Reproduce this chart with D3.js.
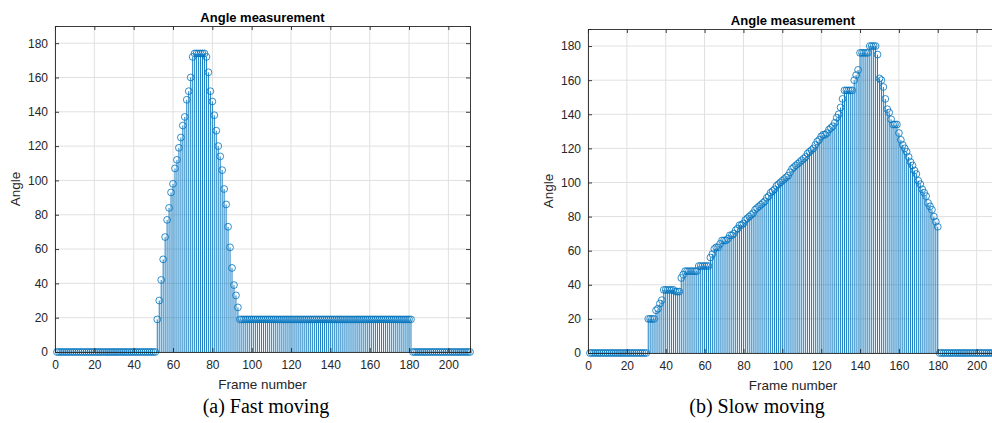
<!DOCTYPE html>
<html>
<head>
<meta charset="utf-8">
<script src="https://cdn.jsdelivr.net/npm/d3@7/dist/d3.min.js"></script>
<style>
  html, body { margin: 0; padding: 0; background: #fff; }
  svg { display: block; }
</style>
</head>
<body>
<div id="vis"></div>
<script>
const width = 992;
const height = 423;

// angle per frame (frames 1..211)
const fastAngles = [
  0, 0, 0, 0, 0, 0, 0, 0, 0, 0,
  0, 0, 0, 0, 0, 0, 0, 0, 0, 0,
  0, 0, 0, 0, 0, 0, 0, 0, 0, 0,
  0, 0, 0, 0, 0, 0, 0, 0, 0, 0,
  0, 0, 0, 0, 0, 0, 0, 0, 0, 0,
  0, 19, 30, 42, 54, 67, 77, 84, 93, 98,
  107, 112, 119, 125, 132, 137, 147, 152, 160, 172,
  174, 174, 174, 174, 174, 174, 172, 163, 152, 146,
  138, 129, 120, 114, 106, 95, 86, 73, 61, 49,
  39, 33, 26, 19, 19, 19, 19, 19, 19, 19,
  19, 19, 19, 19, 19, 19, 19, 19, 19, 19,
  19, 19, 19, 19, 19, 19, 19, 19, 19, 19,
  19, 19, 19, 19, 19, 19, 19, 19, 19, 19,
  19, 19, 19, 19, 19, 19, 19, 19, 19, 19,
  19, 19, 19, 19, 19, 19, 19, 19, 19, 19,
  19, 19, 19, 19, 19, 19, 19, 19, 19, 19,
  19, 19, 19, 19, 19, 19, 19, 19, 19, 19,
  19, 19, 19, 19, 19, 19, 19, 19, 19, 19,
  19, 0, 0, 0, 0, 0, 0, 0, 0, 0,
  0, 0, 0, 0, 0, 0, 0, 0, 0, 0,
  0, 0, 0, 0, 0, 0, 0, 0, 0, 0,
  0
];

const slowAngles = [
  0, 0, 0, 0, 0, 0, 0, 0, 0, 0,
  0, 0, 0, 0, 0, 0, 0, 0, 0, 0,
  0, 0, 0, 0, 0, 0, 0, 0, 0, 0,
  20, 20, 20, 20, 25, 26, 29, 31, 37, 37,
  37, 37, 37, 37, 36, 36, 36, 44, 46, 48,
  48, 48, 48, 48, 48, 48, 51, 51, 51, 51,
  51, 51, 56, 58, 61, 62, 62, 64, 66, 66,
  66, 67, 69, 69, 70, 72, 73, 75, 75, 76,
  78, 79, 80, 81, 82, 84, 85, 86, 87, 88,
  89, 91, 92, 94, 95, 96, 98, 99, 100, 101,
  102, 103, 104, 106, 108, 109, 110, 111, 112, 113,
  114, 115, 117, 118, 119, 120, 122, 124, 125, 127,
  128, 128, 129, 131, 132, 133, 135, 138, 140, 144,
  149, 154, 154, 154, 154, 154, 160, 163, 166, 176,
  176, 176, 176, 176, 180, 180, 180, 180, 175, 161,
  160, 156, 149, 143, 141, 137, 134, 134, 134, 129,
  125, 122, 120, 118, 115, 112, 110, 107, 105, 101,
  99, 96, 94, 92, 88, 86, 84, 80, 77, 74,
  0, 0, 0, 0, 0, 0, 0, 0, 0, 0,
  0, 0, 0, 0, 0, 0, 0, 0, 0, 0,
  0, 0, 0, 0, 0, 0, 0, 0, 0, 0,
  0
];

const xTicks = [0, 20, 40, 60, 80, 100, 120, 140, 160, 180, 200];
const yTicks = [0, 20, 40, 60, 80, 100, 120, 140, 160, 180];
const titles = ["Angle measurement", "Angle measurement"];
const captions = ["(a) Fast moving", "(b) Slow moving"];

const blue = "#0072bd";
const axisColor = "#262626";
const gridColor = "#e0e0e0";

const svg = d3.select("#vis")
  .append("svg")
  .attr("width", width)
  .attr("height", height);

function drawPanel(values, box, title, caption, captionX) {
  const g = svg.append("g");

  const x = d3.scaleLinear().domain([0, 211]).range([box.left, box.right]);
  const y = d3.scaleLinear().domain([0, 190]).range([box.bottom, box.top]);

  // grid
  g.selectAll(".gx")
    .data(xTicks)
    .enter()
    .append("line")
    .attr("x1", d => x(d)).attr("x2", d => x(d))
    .attr("y1", box.top).attr("y2", box.bottom)
    .attr("stroke", gridColor)
    .attr("stroke-width", 1);

  g.selectAll(".gy")
    .data(yTicks)
    .enter()
    .append("line")
    .attr("x1", box.left).attr("x2", box.right)
    .attr("y1", d => y(d)).attr("y2", d => y(d))
    .attr("stroke", gridColor)
    .attr("stroke-width", 1);

  const pts = values.map((v, i) => ({ frame: i + 1, angle: v }));

  // stems
  g.selectAll(".stem")
    .data(pts.filter(d => d.angle > 0))
    .enter()
    .append("line")
    .attr("x1", d => x(d.frame)).attr("x2", d => x(d.frame))
    .attr("y1", y(0)).attr("y2", d => y(d.angle))
    .attr("stroke", blue)
    .attr("stroke-width", 0.9);

  // markers
  g.selectAll(".dot")
    .data(pts)
    .enter()
    .append("circle")
    .attr("cx", d => x(d.frame))
    .attr("cy", d => y(d.angle))
    .attr("r", 3.4)
    .attr("fill", "none")
    .attr("stroke", blue)
    .attr("stroke-width", 0.8);

  // axes: inward ticks on all four sides
  const bottom = d3.axisBottom(x).tickValues(xTicks).tickSize(-4).tickPadding(8);
  const left = d3.axisLeft(y).tickValues(yTicks).tickSize(-4).tickPadding(7);
  const top = d3.axisTop(x).tickValues(xTicks).tickSize(-4).tickFormat("");
  const right = d3.axisRight(y).tickValues(yTicks).tickSize(-4).tickFormat("");

  const axes = [
    g.append("g").attr("transform", `translate(0,${box.bottom})`).call(bottom),
    g.append("g").attr("transform", `translate(${box.left},0)`).call(left),
    g.append("g").attr("transform", `translate(0,${box.top})`).call(top),
    g.append("g").attr("transform", `translate(${box.right},0)`).call(right)
  ];
  axes.forEach(a => {
    a.select(".domain").attr("stroke", axisColor).attr("stroke-width", 0.9);
    a.selectAll(".tick line").attr("stroke", axisColor).attr("stroke-width", 0.9);
    a.selectAll(".tick text")
      .attr("fill", axisColor)
      .attr("font-family", "Liberation Sans, Arial, sans-serif")
      .attr("font-size", "12px");
  });

  const cx = (box.left + box.right) / 2;

  g.append("text")
    .attr("x", cx)
    .attr("y", box.top - 4)
    .attr("text-anchor", "middle")
    .attr("font-family", "Liberation Sans, Arial, sans-serif")
    .attr("font-weight", "bold")
    .attr("font-size", "13px")
    .attr("fill", "#000")
    .text(title);

  g.append("text")
    .attr("x", cx)
    .attr("y", box.bottom + 37)
    .attr("text-anchor", "middle")
    .attr("font-family", "Liberation Sans, Arial, sans-serif")
    .attr("font-size", "13.5px")
    .attr("fill", axisColor)
    .text("Frame number");

  g.append("text")
    .attr("transform", `translate(${box.left - 35},${(box.top + box.bottom) / 2}) rotate(-90)`)
    .attr("text-anchor", "middle")
    .attr("font-family", "Liberation Sans, Arial, sans-serif")
    .attr("font-size", "13.5px")
    .attr("fill", axisColor)
    .text("Angle");

  svg.append("text")
    .attr("x", captionX)
    .attr("y", 413)
    .attr("text-anchor", "middle")
    .attr("font-family", "Liberation Serif, Times New Roman, serif")
    .attr("font-size", "20px")
    .attr("fill", "#000")
    .text(caption);
}

drawPanel(fastAngles, { left: 55, right: 470, top: 26, bottom: 352 }, titles[0], captions[0], 266);
drawPanel(slowAngles, { left: 588, right: 998, top: 29, bottom: 353 }, titles[1], captions[1], 757);
</script>
</body>
</html>
